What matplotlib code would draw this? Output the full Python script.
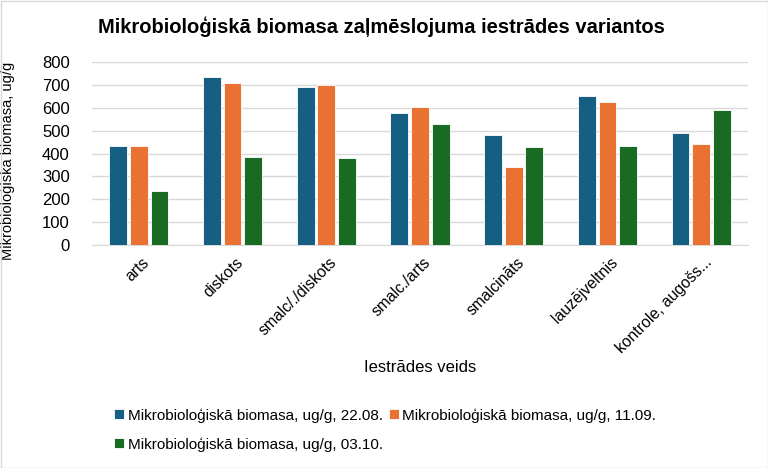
import matplotlib
matplotlib.use("Agg")
import matplotlib.pyplot as plt
import matplotlib.transforms as mtransforms
import numpy as np
from matplotlib.patches import Rectangle

categories = ["arts", "diskots", "smalc/./diskots", "smalc./arts", "smalcināts",
              "lauzējveltnis", "kontrole, augošs..."]
series_names = ["Mikrobioloģiskā biomasa, ug/g, 22.08.",
                "Mikrobioloģiskā biomasa, ug/g, 11.09.",
                "Mikrobioloģiskā biomasa, ug/g, 03.10."]
s_2208 = [433, 733, 692, 579, 480, 650, 490]
s_1109 = [434, 707, 701, 603, 343, 625, 440]
s_0310 = [236, 385, 380, 528, 429, 434, 589]
colors = ["#156082", "#E97132", "#196B24"]

plt.rcParams['font.family'] = ['Liberation Sans', 'DejaVu Sans']

fig = plt.figure(figsize=(7.68, 4.68), dpi=100)
ax = fig.add_axes([92/768, 1-245/468, 656/768, 183/468])

x = np.arange(len(categories))
step = 0.22
w = 0.19
handles = []
for i, (vals, c, name) in enumerate(zip([s_2208, s_1109, s_0310], colors, series_names)):
    b = ax.bar(x + (i-1)*step, vals, width=w, color=c, edgecolor='white', linewidth=0.6,
               label=name, zorder=3)
    handles.append(b)

ax.set_xlim(-0.5, len(categories)-0.5)
ax.set_ylim(0, 800)
ax.set_yticks(range(0, 801, 100))
ax.grid(axis='y', color='#D9D9D9', linewidth=1, zorder=0)
for s in ['top', 'right', 'left']:
    ax.spines[s].set_visible(False)
ax.spines['bottom'].set_color('#D9D9D9')
ax.tick_params(axis='both', length=0, colors='#000000')
ax.tick_params(axis='y', pad=16, labelsize=12)
ax.set_xticks(x)
ax.set_xticklabels(categories, rotation=45, ha='right', rotation_mode='anchor', fontsize=11.3)
ax.tick_params(axis='x', pad=7)
offset = mtransforms.ScaledTranslation(3/100, 0, fig.dpi_scale_trans)
for lbl in ax.get_xticklabels():
    lbl.set_transform(lbl.get_transform() + offset)

ax.set_ylabel("Mikrobioloģiskā biomasa, ug/g", fontsize=10.5)
ax.yaxis.set_label_coords(-77/656, 0.46)
fig.text(420/768, 1-367/468, "Iestrādes veids", ha='center', va='center', fontsize=12)

fig.text(381/768, 1-27/468, "Mikrobioloģiskā biomasa zaļmēslojuma iestrādes variantos",
         ha='center', va='center', fontsize=14.5, fontweight='bold')

order = [0, 2, 1]
leg = fig.legend([handles[i] for i in order], [series_names[i] for i in order],
                 ncol=2, loc='center', bbox_to_anchor=(385/768, 1-430/468),
                 frameon=False, fontsize=11, handlelength=0.65, handleheight=0.65,
                 handletextpad=0.25, columnspacing=0.4, labelspacing=0.95)

fig.patches.append(Rectangle((0.5/768, 0.5/468), 1-1/768, 1-1/468, transform=fig.transFigure,
                             fill=False, edgecolor='#D9D9D9', linewidth=1))

fig.savefig("out.png", dpi=100)
